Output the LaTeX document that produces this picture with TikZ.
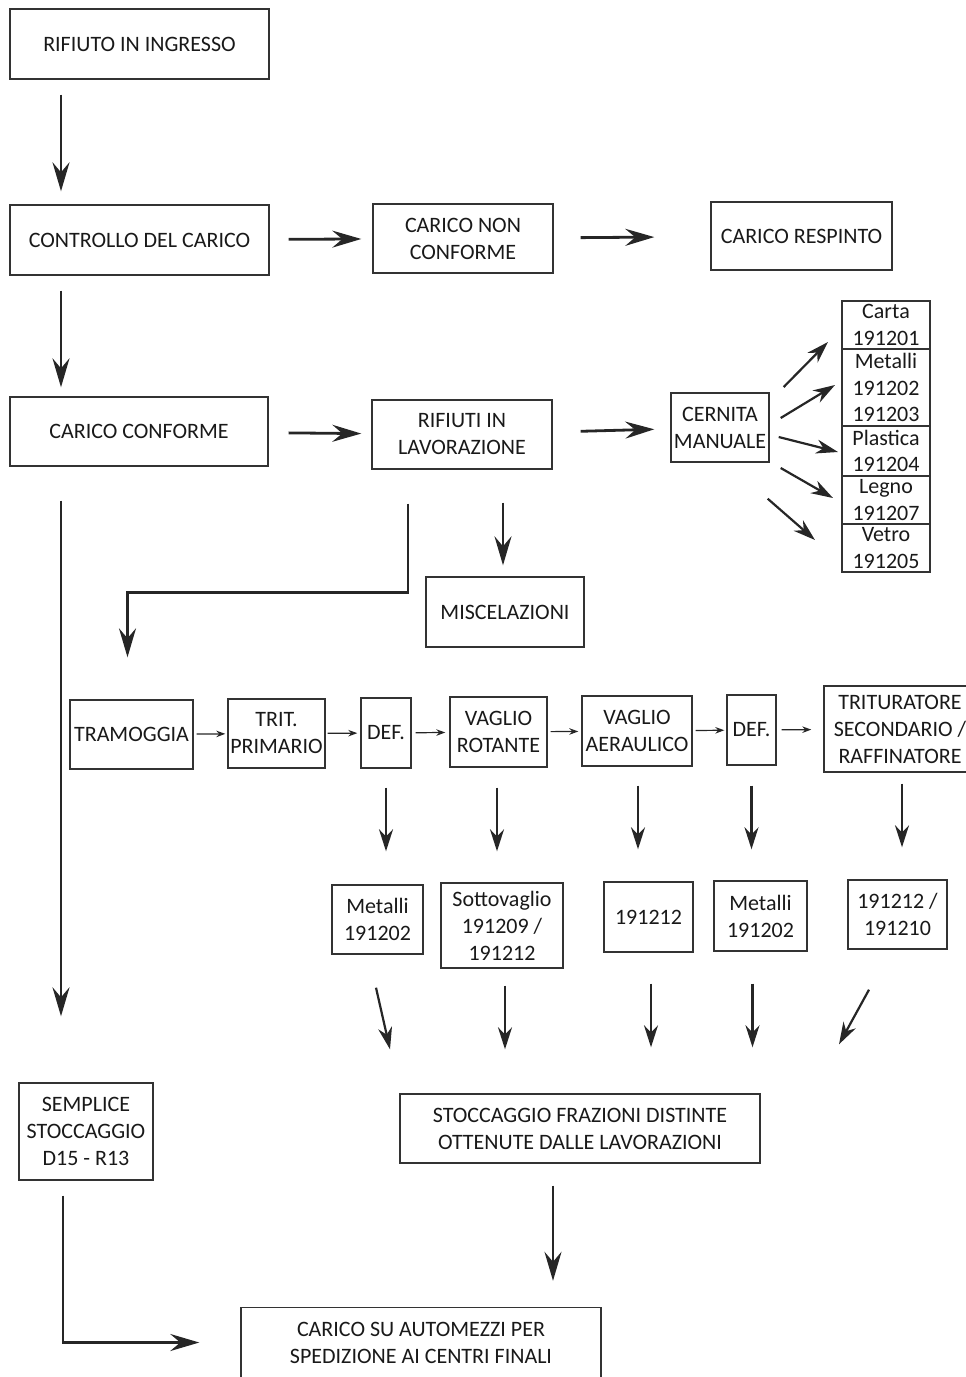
\documentclass[tikz,border=0pt]{standalone}
\usepackage{fontspec}
\setmainfont{Carlito}
\usepackage{tikz}
\usetikzlibrary{arrows.meta, positioning}
\tikzstyle{box} = [rectangle, draw=black!80, line width=1.4pt, align=center, inner sep=1pt, text=black!90, font=\fontsize{22}{27}\selectfont]
\tikzstyle{code} = [rectangle, draw=black!80, line width=1.3pt, align=center, inner sep=0pt, outer sep=0pt, minimum width=88, text=black!90, font=\fontsize{22}{26.5}\selectfont]
\tikzstyle{arrow} = [line width=2.8pt, black!85, -{Stealth[length=29pt, width=17pt, inset=10pt]}]
\tikzstyle{midarrow} = [line width=2.2pt, black!85, -{Stealth[length=22pt, width=14pt, inset=7pt]}]
\tikzstyle{smallarrow} = [line width=1.2pt, black!85, -{Stealth[length=9pt, width=6.5pt]}]

\begin{document}
\begin{tikzpicture}[x=1pt, y=-1pt]
\useasboundingbox (0,0) rectangle (966,1377);
\coordinate (lane) at (61,0);

% Accettazione
\node (ingresso) [box, minimum width=259, minimum height=70] at (139.5,44) {RIFIUTO IN INGRESSO};
\node (controllo) [box, minimum width=259, minimum height=70] at (139.5,240) {CONTROLLO DEL CARICO};
\node (nonconf) [box, minimum width=180, minimum height=69] at (463,238.5) {CARICO NON\\CONFORME};
\node (respinto) [box, minimum width=181, minimum height=68] at (801.5,236) {CARICO RESPINTO};
\node (conforme) [box, minimum width=258, minimum height=69] at (139,431.5) {CARICO CONFORME};
\node (lavorazione) [box, minimum width=180, minimum height=69] at (462,434.5) {RIFIUTI IN\\LAVORAZIONE};
\node (cernita) [box, minimum width=98, minimum height=69] at (720,427.5) {CERNITA\\MANUALE};
\node (miscelazioni) [box, minimum width=158, minimum height=70] at (505,612) {MISCELAZIONI};

% Codici da cernita
\node (carta) [code, minimum height=48] at (886,325) {Carta\\191201};
\node (metalli) [code, minimum height=77, below=0pt of carta] {Metalli\\191202\\191203};
\node (plastica) [code, minimum height=50, below=0pt of metalli] {Plastica\\191204};
\node (legno) [code, minimum height=48, below=0pt of plastica] {Legno\\191207};
\node (vetro) [code, minimum height=48, below=0pt of legno] {Vetro\\191205};

% Linea di trattamento
\node (tramoggia) [box, minimum width=123, minimum height=69] at (131.5,734.5) {TRAMOGGIA};
\node (tritprim) [box, minimum width=97, minimum height=69] at (276.5,733.5) {TRIT.\\PRIMARIO};
\node (def1) [box, minimum width=50, minimum height=70] at (386,733) {DEF.};
\node (vagliorot) [box, minimum width=97, minimum height=70] at (498.5,732) {VAGLIO\\ROTANTE};
\node (vaglioaer) [box, minimum width=110, minimum height=70] at (637,731) {VAGLIO\\AERAULICO};
\node (def2) [box, minimum width=49, minimum height=70] at (751.5,730) {DEF.};
\node (tritsec) [box, minimum width=152, minimum height=86] at (900,729) {TRITURATORE\\SECONDARIO /\\RAFFINATORE};

% Frazioni in uscita
\node (out1) [box, minimum width=91, minimum height=69] at (377.5,919.5) {Metalli\\191202};
\node (out2) [box, minimum width=122, minimum height=85] at (502,925.5) {Sottovaglio\\191209 /\\191212};
\node (out3) [box, minimum width=89, minimum height=70] at (648.5,917) {191212};
\node (out4) [box, minimum width=93, minimum height=70] at (760.5,916) {Metalli\\191202};
\node (out5) [box, minimum width=99, minimum height=69] at (897.5,914.5) {191212 /\\191210};

% Stoccaggi e spedizione
\node (stoccaggio) [box, minimum width=360, minimum height=69] at (580,1128.5) {STOCCAGGIO FRAZIONI DISTINTE\\OTTENUTE DALLE LAVORAZIONI};
\node (semplice) [box, minimum width=134, minimum height=97] at (86,1131.5) {SEMPLICE\\STOCCAGGIO\\D15 - R13};
\node (automezzi) [box, minimum width=360, minimum height=70] at (421,1342.5) {CARICO SU AUTOMEZZI PER\\SPEDIZIONE AI CENTRI FINALI};

% Flussi principali
\draw [arrow, shorten <=15, shorten >=13] (ingresso.south -| lane) -- (controllo.north -| lane);
\draw [arrow, shorten <=15, shorten >=9] (controllo.south -| lane) -- (conforme.north -| lane);
\draw [arrow, shorten <=34, shorten >=66] (conforme.south -| lane) -- (semplice.north -| lane);
\draw [arrow, shorten <=19, shorten >=11] (controllo) -- (nonconf);
\draw [arrow, shorten <=27, shorten >=56] (nonconf) -- (respinto);
\draw [arrow, shorten <=20, shorten >=10] (conforme) -- (lavorazione);
\draw [arrow, shorten <=28, shorten >=16] (lavorazione) -- (cernita);
\draw [arrow, shorten <=33, shorten >=11] ([xshift=41]lavorazione.south) -- ([xshift=-2]miscelazioni.north);
\draw [arrow, shorten <=34, shorten >=42] ([xshift=-54]lavorazione.south) -- ++(0,123) -| ([xshift=-4]tramoggia.north);

% Cernita verso i codici
\draw [midarrow] ([shift={(14,-40.5)}]cernita.east) -- ([shift={(-14,17)}]carta.west);
\draw [midarrow] ([shift={(11,-9.5)}]cernita.east) -- ([shift={(-7,-2.5)}]metalli.west);
\draw [midarrow] ([shift={(9,9.5)}]cernita.east) -- ([shift={(-4,1)}]plastica.west);
\draw [midarrow] ([shift={(11,40.5)}]cernita.east) -- ([shift={(-9,-2)}]legno.west);
\draw [midarrow] ([shift={(-2,36)}]cernita.south east) -- ([shift={(-27,-8)}]vetro.west);

% Linea di trattamento
\draw [smallarrow, shorten <=3, shorten >=2] (tramoggia) -- (tritprim);
\draw [smallarrow, shorten <=2, shorten >=3] (tritprim) -- (def1);
\draw [smallarrow, shorten <=4, shorten >=4] (def1) -- (vagliorot);
\draw [smallarrow, shorten <=3, shorten >=3] (vagliorot) -- (vaglioaer);
\draw [smallarrow, shorten <=3, shorten >=2] (vaglioaer) -- (def2);
\draw [smallarrow, shorten <=5, shorten >=12] (def2) -- (tritsec);

% Uscite della linea
\draw [midarrow, shorten <=19, shorten >=33] (def1.south) -- (def1.south |- out1.north);
\draw [midarrow, shorten <=20, shorten >=31] ([xshift=-1.5]vagliorot.south) -- ([xshift=-1.5]vagliorot.south |- out2.north);
\draw [midarrow, shorten <=19, shorten >=32] ([xshift=1]vaglioaer.south) -- ([xshift=1]vaglioaer.south |- out3.north);
\draw [midarrow, shorten <=20, shorten >=31] (def2.south) -- (def2.south |- out4.north);
\draw [midarrow, shorten <=11, shorten >=32] ([xshift=2]tritsec.south) -- ([xshift=2]tritsec.south |- out5.north);

% Verso lo stoccaggio
\draw [midarrow] ([shift={(-1.5,33)}]out1.south) -- ([shift={(-190,-44)}]stoccaggio.north);
\draw [midarrow, shorten <=17, shorten >=44] ([xshift=3]out2.south) -- ([xshift=3]out2.south |- stoccaggio.north);
\draw [midarrow, shorten <=31, shorten >=46] ([xshift=2.5]out3.south) -- ([xshift=2.5]out3.south |- stoccaggio.north);
\draw [midarrow, shorten <=32, shorten >=46] ([xshift=-8]out4.south) -- ([xshift=-8]out4.south |- stoccaggio.north);
\draw [midarrow] ([shift={(-28.5,40)}]out5.south) -- ([shift={(259,-49)}]stoccaggio.north);

% Spedizione
\draw [arrow, shorten <=22, shorten >=26] ([xshift=-27]stoccaggio.south) -- ([xshift=-27]stoccaggio.south |- automezzi.north);
\draw [arrow, shorten <=15, shorten >=41] ([xshift=-23]semplice.south) |- (automezzi.west);

\end{tikzpicture}
\end{document}
